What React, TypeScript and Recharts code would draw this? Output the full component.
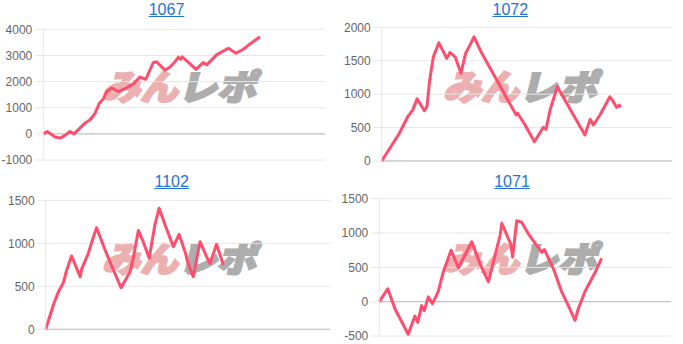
import React from 'react';
import { LineChart, Line, XAxis, YAxis, CartesianGrid, ReferenceLine } from 'recharts';

// ---- data ----
const machineNumbers = ['1067', '1072', '1102', '1071'];

const games1067 = [0, 1.4, 4.2, 6.1, 7.7, 9.5, 10.9, 13, 14.8, 16.6, 18.4, 19.9, 21.3, 22.5, 24.3, 26.7, 29.4, 31.9, 34.3, 36.4, 39, 40.2, 43.2, 44.9, 46.8, 47.9, 48.8, 49.3, 52.1, 54.2, 56.8, 58, 61.5, 65.7, 68.4, 71, 73.4, 76.9];
const diff1067 = [0, 90, -120, -160, -50, 90, 0, 220, 410, 540, 790, 1170, 1330, 1620, 1750, 1620, 1750, 1910, 2170, 2090, 2720, 2760, 2440, 2550, 2760, 2930, 2850, 2950, 2680, 2470, 2730, 2640, 3020, 3275, 3084, 3237, 3440, 3718];

const games1072 = [0, 6.1, 9.0, 10.7, 12.2, 14.7, 15.6, 16.5, 17.8, 19.7, 22.4, 23.5, 25.3, 27.3, 28.9, 30.4, 31.8, 34.4, 42.5, 46.3, 46.8, 49.4, 52.6, 55.1, 55.7, 56.6, 58.0, 60.5, 63.1, 70.0, 71.8, 72.9, 75.2, 78.6, 79.8, 80.9, 81.8, 82.3];
const diff1072 = [0, 415, 665, 765, 930, 752, 815, 1200, 1559, 1768, 1535, 1625, 1559, 1311, 1610, 1734, 1858, 1619, 987, 690, 715, 538, 289, 463, 503, 474, 762, 1110, 912, 389, 623, 538, 688, 961, 886, 803, 837, 800];

const games1102 = [0, 2.7, 4.4, 6.2, 7.4, 9.1, 12.1, 12.7, 15.0, 16.2, 17.9, 20.9, 23.8, 26.5, 29.7, 30.8, 32.6, 34.3, 36.4, 38.4, 39.9, 42.0, 44.9, 46.9, 49.0, 50.1, 51.9, 54.3, 56.6, 57.8, 60.1, 62.5];
const diff1102 = [0, 283, 430, 540, 690, 852, 612, 705, 884, 1015, 1181, 922, 690, 484, 670, 830, 1150, 1019, 826, 1213, 1407, 1213, 960, 1105, 902, 767, 612, 1019, 844, 767, 988, 748];

const games1071 = [0, 2.9, 5.4, 9.9, 12.2, 13.2, 14.5, 15.4, 16.8, 18.2, 20.2, 21.9, 24.6, 27.1, 31.7, 34.5, 37.4, 41.4, 42.0, 45.1, 45.7, 47.1, 48.8, 51.1, 55.7, 56.6, 59.7, 62.5, 64.8, 67.1, 68.2, 70.5, 74.0, 76.2];
const diff1071 = [0, 188, -107, -474, -210, -301, -57, -133, 70, -31, 147, 428, 750, 494, 872, 555, 290, 964, 1141, 835, 650, 1178, 1157, 988, 719, 759, 479, 147, -57, -271, -107, 147, 428, 632];

const ticks1067 = [-1000, 0, 1000, 2000, 3000, 4000];
const ticks1072 = [0, 500, 1000, 1500, 2000];
const ticks1102 = [0, 500, 1000, 1500];
const ticks1071 = [-500, 0, 500, 1000, 1500];

const gamesList = [games1067, games1072, games1102, games1071];
const diffList = [diff1067, diff1072, diff1102, diff1071];
const tickList = [ticks1067, ticks1072, ticks1102, ticks1071];

// ---- layout ----
const panels = [
  { left: 0, top: 0, width: 341, plotLeft: 43.3, plotRight: 325, plotTop: 29.3, plotBottom: 160, titleX: 166.5 },
  { left: 341, top: 0, width: 342, plotLeft: 40.7, plotRight: 331, plotTop: 27.3, plotBottom: 161, titleX: 169.3 },
  { left: 0, top: 172, width: 341, plotLeft: 45.7, plotRight: 330, plotTop: 28.3, plotBottom: 157.3, titleX: 171.7 },
  { left: 341, top: 172, width: 342, plotLeft: 38.3, plotRight: 330, plotTop: 26.7, plotBottom: 164, titleX: 171 },
];
const PANEL_H = 172;
const FONT = '"Liberation Sans", Arial, Helvetica, sans-serif';
const WM_FONT = '"Noto Sans CJK JP", "Noto Sans CJK SC", sans-serif';

function Watermark() {
  return (
    <svg width={200} height={60} style={{ position: 'absolute', left: 90, top: 56, overflow: 'visible' }}>
      <g transform="translate(12,12) skewX(-14)">
        <text x={8} y={32} fontSize={35} fontWeight={900} fill="#ecb0b0" stroke="#ecb0b0" strokeWidth={2.2}
          fontFamily={WM_FONT} textLength={76} lengthAdjust="spacingAndGlyphs">みん</text>
        <text x={84} y={32} fontSize={35} fontWeight={900} fill="#adadad" stroke="#adadad" strokeWidth={2.2}
          fontFamily={WM_FONT} textLength={78} lengthAdjust="spacingAndGlyphs">レポ</text>
      </g>
    </svg>
  );
}

function Panel({ idx }: { idx: number }) {
  const p = panels[idx];
  const ticks = tickList[idx];
  const data = gamesList[idx].map((g, i) => ({ g, v: diffList[idx][i] }));
  return (
    <div style={{ position: 'absolute', left: p.left, top: p.top, width: p.width, height: PANEL_H }}>
      <Watermark />
      <div style={{ position: 'absolute', left: 0, top: 0 }}>
        <LineChart
          width={p.width}
          height={PANEL_H}
          data={data}
          margin={{ top: p.plotTop, bottom: PANEL_H - p.plotBottom, left: 0, right: p.width - p.plotRight }}
        >
          <CartesianGrid vertical={false} stroke="#e6e6e6" />
          <XAxis dataKey="g" type="number" domain={[0, 100]} hide />
          <YAxis
            type="number"
            domain={[ticks[0], ticks[ticks.length - 1]]}
            ticks={ticks}
            interval={0}
            width={p.plotLeft}
            tickSize={8}
            tickMargin={3}
            tick={{ fill: '#666', fontSize: 12, fontFamily: FONT }}
            tickLine={{ stroke: '#e6e6e6' }}
            axisLine={{ stroke: '#e6e6e6' }}
          />
          <ReferenceLine y={0} stroke="#bdbdbd" />
          <Line
            type="linear"
            dataKey="v"
            stroke="#ff4d6d"
            strokeWidth={3}
            dot={false}
            strokeLinejoin="round"
            isAnimationActive={false}
          />
        </LineChart>
      </div>
      <a
        href="#"
        style={{
          position: 'absolute',
          left: p.titleX,
          top: 0,
          transform: 'translateX(-50%)',
          color: '#1f74d6',
          fontFamily: FONT,
          fontSize: 16,
          lineHeight: '19px',
          textDecoration: 'underline',
          whiteSpace: 'nowrap',
        }}
      >
        {machineNumbers[idx]}
      </a>
    </div>
  );
}

export default function App() {
  return (
    <div style={{ position: 'absolute', left: 0, top: 0, width: 683, height: 344, background: '#fff', overflow: 'hidden' }}>
      {panels.map((_, i) => (
        <Panel key={i} idx={i} />
      ))}
    </div>
  );
}
